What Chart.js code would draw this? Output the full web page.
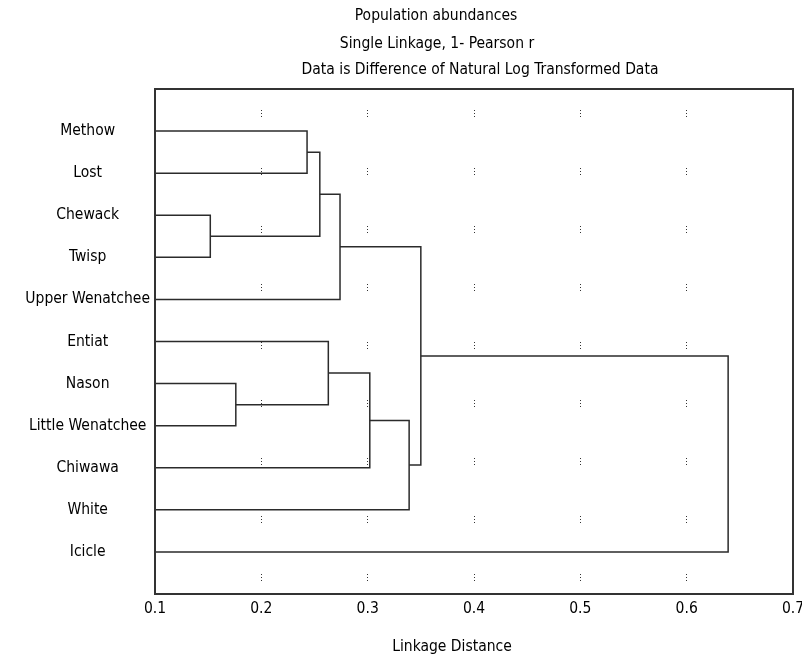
<!DOCTYPE html>
<html>
<head>
<meta charset="utf-8">
<script src="https://cdn.jsdelivr.net/npm/chart.js@4"></script>
<style>
  html, body { margin: 0; padding: 0; background: #fff; }
  #wrap { width: 802px; height: 658px; }
</style>
</head>
<body>
<div id="wrap"><canvas id="chart" width="802" height="658"></canvas></div>
<script>
// leaves, top to bottom
const leaves = ['Methow', 'Lost', 'Chewack', 'Twisp', 'Upper Wenatchee', 'Entiat',
                'Nason', 'Little Wenatchee', 'Chiwawa', 'White', 'Icicle'];

// merge steps: ids below 11 are leaves, 11+ are the results of earlier steps
const joinA = [2, 6, 0, 13, 5, 14, 15, 17, 16, 19];
const joinB = [3, 7, 1, 11, 12, 4, 8, 9, 18, 10];
const joinDist = [0.152, 0.176, 0.243, 0.255, 0.263, 0.274, 0.302, 0.339, 0.350, 0.639];

const xTicks = [0.1, 0.2, 0.3, 0.4, 0.5, 0.6, 0.7];

const titleLines = ['Population abundances', 'Single Linkage, 1- Pearson r',
                    'Data is Difference of Natural Log Transformed Data'];
const xTitle = 'Linkage Distance';

const FONT = '"DejaVu Sans Condensed", "Liberation Sans Narrow", sans-serif';
const INK = '#2b2b2b';

// position (row) and height of every node
const pos = leaves.map((n, i) => i + 1);
const height = leaves.map(() => 0);
const datasets = joinDist.map((d, k) => {
    const a = joinA[k], b = joinB[k];
    pos.push((pos[a] + pos[b]) / 2);
    height.push(d);
    return {
        data: [
            {x: height[a], y: pos[a]},
            {x: d, y: pos[a]},
            {x: d, y: pos[b]},
            {x: height[b], y: pos[b]},
        ],
        showLine: true,
        borderColor: INK,
        borderWidth: 1.5,
        pointRadius: 0,
        tension: 0,
        borderJoinStyle: 'miter',
    };
});

const textPlugin = {
    id: 'texts',
    afterDraw(chart) {
        const {ctx, chartArea: a} = chart;
        ctx.save();
        // frame round the plot
        ctx.strokeStyle = '#333';
        ctx.lineWidth = 2;
        ctx.strokeRect(a.left, a.top, a.right - a.left, a.bottom - a.top);
        // titles
        ctx.fillStyle = '#000';
        ctx.font = '15.5px ' + FONT;
        ctx.textAlign = 'center';
        ctx.textBaseline = 'middle';
        ctx.fillText(titleLines[0], 436, 16);
        ctx.fillText(titleLines[1], 437, 44);
        ctx.fillText(titleLines[2], 480, 70);
        ctx.fillText(xTitle, 452, 647);
        ctx.restore();
    }
};

Chart.defaults.font.family = FONT;
Chart.defaults.font.size = 15.5;
Chart.defaults.color = '#000';

new Chart(document.getElementById('chart'), {
    type: 'scatter',
    data: {datasets},
    plugins: [textPlugin],
    options: {
        responsive: false,
        animation: false,
        layout: {padding: {left: 10, right: 9, top: 89, bottom: 0}},
        plugins: {legend: {display: false}, tooltip: {enabled: false}},
        scales: {
            x: {
                type: 'linear',
                min: 0.1,
                max: 0.7,
                afterBuildTicks: s => { s.ticks = xTicks.map(v => ({value: v})); },
                afterFit: s => { s.height = 64; s.paddingLeft = 0; s.paddingRight = 0; },
                ticks: {padding: 6, callback: v => v.toFixed(1)},
                grid: {color: '#333', lineWidth: 1, drawTicks: false},
                border: {display: false, dash: [1, 2, 1, 2, 1, 51], dashOffset: 37},
            },
            y: {
                type: 'linear',
                reverse: true,
                min: 0,
                max: leaves.length + 1,
                afterBuildTicks: s => { s.ticks = leaves.map((n, i) => ({value: i + 1})); },
                afterFit: s => { s.width = 145; s.paddingTop = 0; s.paddingBottom = 0; },
                ticks: {crossAlign: 'center', padding: 5, callback: v => leaves[v - 1]},
                grid: {display: false, drawTicks: false},
                border: {display: false},
            }
        }
    }
});
</script>
</body>
</html>
